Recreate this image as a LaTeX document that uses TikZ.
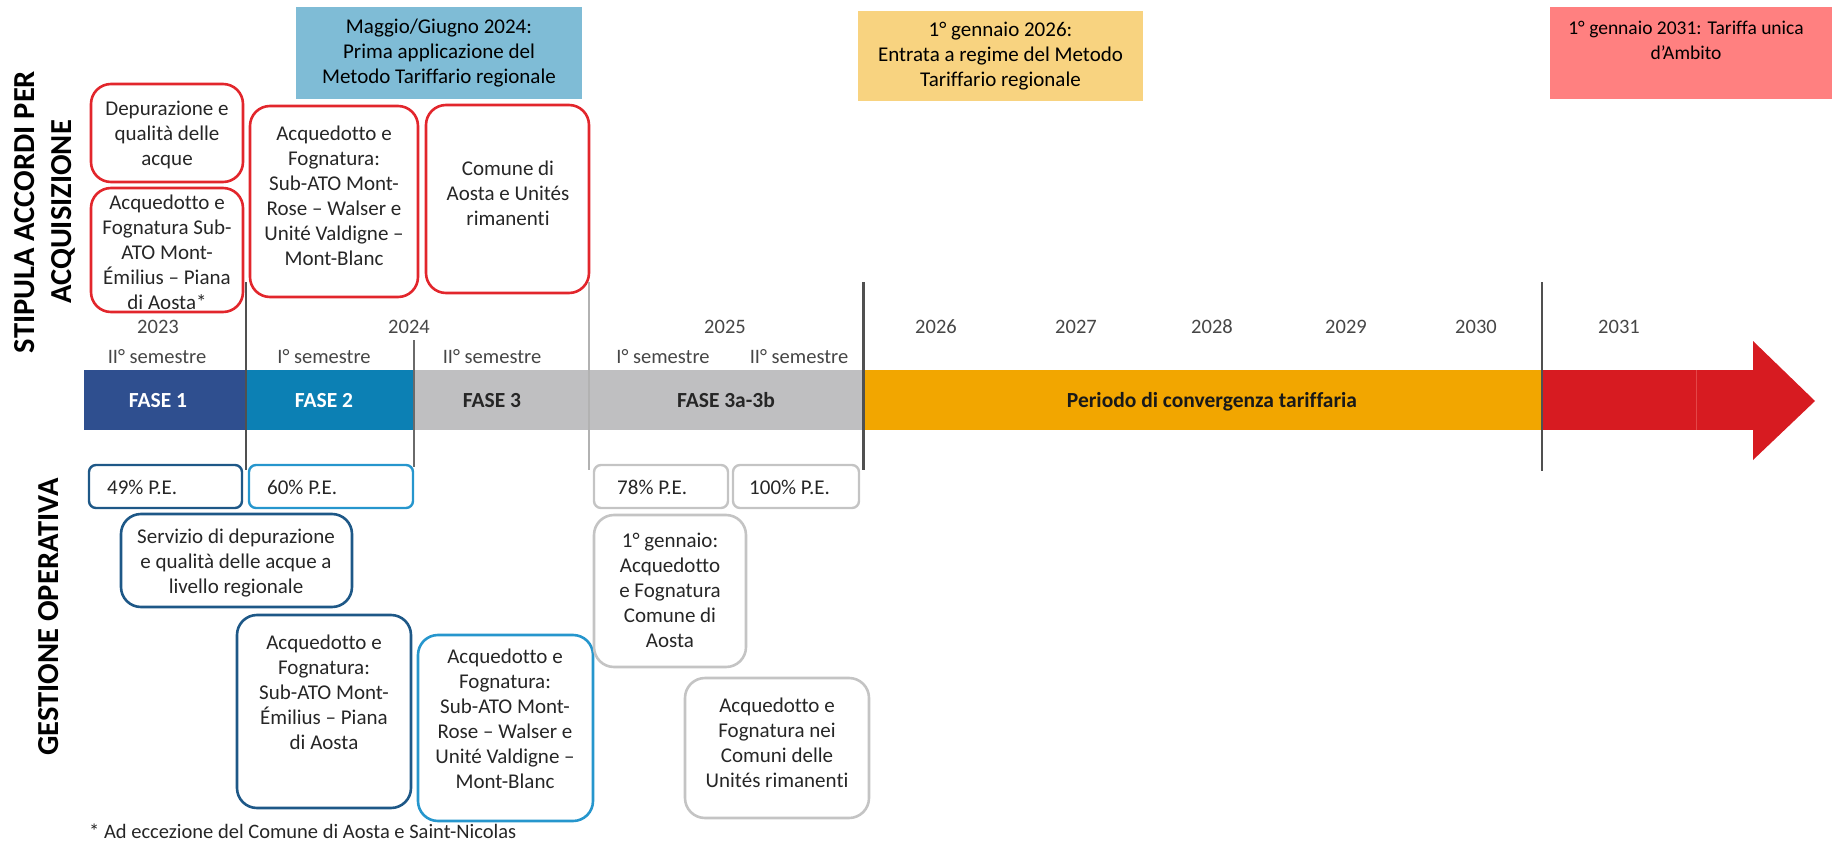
\documentclass[tikz,border=0pt]{standalone}
\usepackage{fontspec}
\setmainfont[Ligatures=NoCommon]{Carlito}
\definecolor{txt}{RGB}{38,38,38}
\definecolor{lbl}{RGB}{70,70,70}
\definecolor{topblue}{RGB}{127,188,214}
\definecolor{topyellow}{RGB}{248,211,128}
\definecolor{topred}{RGB}{255,128,128}
\definecolor{fasea}{RGB}{47,79,143}
\definecolor{faseb}{RGB}{12,128,180}
\definecolor{fasegrey}{RGB}{191,191,193}
\definecolor{faseorange}{RGB}{242,166,0}
\definecolor{fasered}{RGB}{215,27,33}
\definecolor{seam}{RGB}{228,70,72}
\definecolor{redb}{RGB}{226,38,44}
\definecolor{darkb}{RGB}{30,88,135}
\definecolor{lightb}{RGB}{38,150,205}
\definecolor{greyb}{RGB}{196,196,196}
\definecolor{vline}{RGB}{80,80,80}
\newcommand\mybox[6]{\node[#6, minimum width={#4-#2}, minimum height={#5-#3}, inner sep=0pt] (#1) at ({(#2+#4)/2},{(#3+#5)/2}) {};}
\begin{document}
\begin{tikzpicture}[x=1pt,y=-1pt,
  every node/.style={text=txt},
  bodyfont/.style={font=\fontsize{21}{25}\selectfont},
  btxt/.style={bodyfont, align=center, inner sep=0pt},
  redbox/.style={draw=redb, line width=2.6pt, rounded corners=20pt},
  darkbox/.style={draw=darkb, line width=2.6pt, rounded corners=20pt},
  lightbox/.style={draw=lightb, line width=2.6pt, rounded corners=20pt},
  greybox/.style={draw=greyb, line width=2.6pt, rounded corners=20pt},
  pedark/.style={draw=darkb, line width=2.4pt, rounded corners=7pt},
  pelight/.style={draw=lightb, line width=2.4pt, rounded corners=7pt},
  pegrey/.style={draw=greyb, line width=2.4pt, rounded corners=7pt},
  yearlbl/.style={text=lbl, font=\fontsize{20.5}{24}\selectfont, anchor=base, inner sep=0pt},
  fasetxt/.style={font=\bfseries\fontsize{21.5}{25}\selectfont, anchor=base, inner sep=0pt},
  sidelbl/.style={rotate=90, text=black, font=\bfseries\fontsize{30.5}{37}\selectfont, align=center, inner sep=0pt},
  petxt/.style={bodyfont, anchor=west, inner sep=0pt}
]
\useasboundingbox (0,0) rectangle (1832,843);

% side labels
\node[sidelbl] (stipula) at (44.5,212) {STIPULA ACCORDI PER\\ACQUISIZIONE};
\node[sidelbl] (gestione) at (49,617) {GESTIONE OPERATIVA};

% top milestone boxes
\fill[topblue] (296,7) rectangle (582,99);
\node[btxt, text=black] (tb) at (439,53) {Maggio/Giugno 2024:\\Prima applicazione del\\Metodo Tariffario regionale};
\fill[topyellow] (858,11) rectangle (1143,101);
\node[btxt, text=black] (ty) at (1000.5,56) {1° gennaio 2026:\\Entrata a regime del Metodo\\Tariffario regionale};
\fill[topred] (1550,7) rectangle (1832,99);
\node[btxt, text=black, font=\fontsize{19.5}{25}\selectfont] (tr) at (1686,40) {1° gennaio 2031: Tariffa unica\\d’Ambito};

% red boxes (stipula)
\mybox{dep}{91}{84}{243}{182}{redbox}
\node[btxt] (dept) at (167,135) {Depurazione e\\qualità delle\\acque};
\mybox{afs}{91}{188}{243}{312}{redbox}
\node[btxt] (afst) at (167,252) {Acquedotto e\\Fognatura Sub-\\ATO Mont-\\Émilius – Piana\\di Aosta*};
\mybox{mr}{250}{106}{418}{297}{redbox}
\node[btxt] (mrt) at (334,196) {Acquedotto e\\Fognatura:\\Sub-ATO Mont-\\Rose – Walser e\\Unité Valdigne –\\Mont-Blanc};
\mybox{com}{426}{105}{589}{293}{redbox}
\node[btxt] (comt) at (508,193) {Comune di\\Aosta e Unités\\rimanenti};

% years
\node[yearlbl] (y23) at (158,333) {2023};
\node[yearlbl] (y24) at (409,333) {2024};
\node[yearlbl] (y25) at (725,333) {2025};
\node[yearlbl] (y26) at (936,333) {2026};
\node[yearlbl] (y27) at (1076,333) {2027};
\node[yearlbl] (y28) at (1212,333) {2028};
\node[yearlbl] (y29) at (1346,333) {2029};
\node[yearlbl] (y30) at (1476,333) {2030};
\node[yearlbl] (y31) at (1619,333) {2031};

% semesters
\node[yearlbl] (s1) at (157,363) {II° semestre};
\node[yearlbl] (s2) at (324,363) {I° semestre};
\node[yearlbl] (s3) at (492,363) {II° semestre};
\node[yearlbl] (s4) at (663,363) {I° semestre};
\node[yearlbl] (s5) at (799,363) {II° semestre};

% band
\fill[fasea] (84,370) rectangle (246,430);
\fill[faseb] (246,370) rectangle (414,430);
\fill[fasegrey] (414,370) rectangle (863,430);
\fill[faseorange] (863,370) rectangle (1542,430);
\fill[fasered] (1542,370) rectangle (1753,430);
\fill[fasered] (1753,341) -- (1815,401) -- (1753,460) -- cycle;
\draw[seam, line width=0.8pt] (1696,370) -- (1696,430);
\node[fasetxt, text=white] (f1) at (158,407) {FASE 1};
\node[fasetxt, text=white] (f2) at (324,407) {FASE 2};
\node[fasetxt, text=black!85] (f3) at (492,407) {FASE 3};
\node[fasetxt, text=black!85] (f3ab) at (726,407) {FASE 3a-3b};
\node[fasetxt, text=black!90] (conv) at (1212,407) {Periodo di convergenza tariffaria};

% vertical separators
\draw[vline, line width=2pt] (246,282) -- (246,470);
\draw[vline!85, line width=1.4pt] (414,340) -- (414,467);
\draw[black!30, line width=1.2pt] (589,282) -- (589,470);
\draw[vline, line width=3pt] (863,282) -- (863,470);
\draw[vline, line width=2.6pt] (1542,282) -- (1542,471);

% P.E. boxes
\mybox{pe49}{89}{465}{242}{508}{pedark}
\node[petxt] (pe49t) at (107,487) {49\% P.E.};
\mybox{pe60}{249}{465}{413}{508}{pelight}
\node[petxt] (pe60t) at (267,487) {60\% P.E.};
\mybox{pe78}{594}{465}{728}{508}{pegrey}
\node[petxt] (pe78t) at (617,487) {78\% P.E.};
\mybox{pe100}{733}{465}{859}{508}{pegrey}
\node[petxt] (pe100t) at (749,487) {100\% P.E.};

% gestione boxes
\mybox{serv}{121}{514}{352}{607}{darkbox}
\node[btxt] (servt) at (236,563) {Servizio di depurazione\\e qualità delle acque a\\livello regionale};
\mybox{emil}{237}{615}{411}{808}{darkbox}
\node[btxt] (emilt) at (324,692) {Acquedotto e\\Fognatura:\\Sub-ATO Mont-\\Émilius – Piana\\di Aosta};
\mybox{mr2}{418}{635}{593}{821}{lightbox}
\node[btxt] (mr2t) at (505,719) {Acquedotto e\\Fognatura:\\Sub-ATO Mont-\\Rose – Walser e\\Unité Valdigne –\\Mont-Blanc};
\mybox{genn}{594}{515}{746}{667}{greybox}
\node[btxt] (gennt) at (670,590) {1° gennaio:\\Acquedotto\\e Fognatura\\Comune di\\Aosta};
\mybox{uni}{685}{678}{869}{818}{greybox}
\node[btxt] (unit) at (777,743) {Acquedotto e\\Fognatura nei\\Comuni delle\\Unités rimanenti};

% footnote
\node[font=\fontsize{20.5}{24}\selectfont, anchor=base west, inner sep=0pt] (foot) at (89,838) {* Ad eccezione del Comune di Aosta e Saint-Nicolas};
\end{tikzpicture}
\end{document}
